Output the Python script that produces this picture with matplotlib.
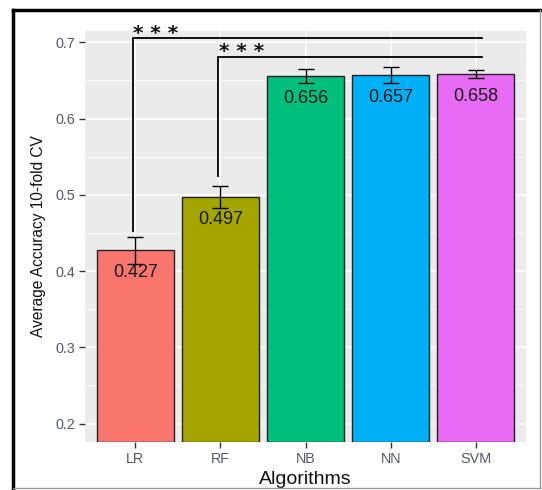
import matplotlib
matplotlib.use("Agg")
import matplotlib.pyplot as plt
from matplotlib.lines import Line2D

# ---------- DATA ----------
algorithms = ["LR", "RF", "NB", "NN", "SVM"]
accuracy = [0.427, 0.497, 0.656, 0.657, 0.658]
acc_err = [0.018, 0.014, 0.009, 0.010, 0.005]
bar_colors = ["#F8766D", "#A3A500", "#00BF7D", "#00B0F6", "#E76BF3"]

# significance brackets: (start group, end group, label)
sig_start = ["LR", "RF"]
sig_end = ["SVM", "SVM"]
sig_labels = ["* * *", "* * *"]
sig_heights = [0.705, 0.681]

plt.rcParams["font.family"] = ["Liberation Sans", "DejaVu Sans"]

fig = plt.figure(figsize=(5.42, 4.9), dpi=100)
ax = fig.add_axes([85 / 542, 1 - 442 / 490, 441 / 542, 411 / 490])

x = list(range(1, len(algorithms) + 1))
ymin = 0.1758

ax.set_facecolor("#EBEBEB")
for y in [0.25, 0.35, 0.45, 0.55, 0.65]:
    ax.axhline(y, color="white", lw=0.6, zorder=0)
for y in [0.2, 0.3, 0.4, 0.5, 0.6, 0.7]:
    ax.axhline(y, color="white", lw=1.1, zorder=0)
for xi in x:
    ax.axvline(xi, color="white", lw=1.1, zorder=0)

heights = [a - ymin for a in accuracy]
ax.bar(x, heights, bottom=ymin, width=0.9, color=bar_colors,
       edgecolor="#222222", linewidth=1.0, zorder=2)
ax.errorbar(x, accuracy, yerr=acc_err, fmt="none", ecolor="black",
            elinewidth=1.0, capsize=6, capthick=1.0, zorder=3)

for xi, a in zip(x, accuracy):
    ax.annotate(f"{a:.3f}", (xi, a), xytext=(0, -16), textcoords="offset points",
                ha="center", va="center", fontsize=13, color="#1a1a1a", zorder=4)

# significance brackets
for s, e, lab, h in zip(sig_start, sig_end, sig_labels, sig_heights):
    i0 = algorithms.index(s)
    i1 = algorithms.index(e)
    x0 = x[i0] - 0.03
    x1 = x[i1] + 0.07
    low = accuracy[i0] + acc_err[i0] + 0.008 + 0.005 * i0
    ax.plot([x0, x0, x1], [low, h, h], color="black", lw=1.3,
            zorder=4, clip_on=False, solid_joinstyle="miter")
    ax.annotate(lab, (x0, h), xytext=(0.5, -0.5), textcoords="offset points",
                ha="left", va="baseline", fontsize=14.5, fontweight="bold",
                family="DejaVu Sans", color="#111111", clip_on=False)

ax.set_xlim(0.41, 5.59)
ax.set_ylim(ymin, 0.7148)
ax.set_xticks(x)
ax.set_xticklabels(algorithms)
ax.set_yticks([0.2, 0.3, 0.4, 0.5, 0.6, 0.7])
ax.set_yticklabels(["0.2", "0.3", "0.4", "0.5", "0.6", "0.7"])
ax.tick_params(axis="both", length=4, width=1, color="#333333",
               labelcolor="#555a66", labelsize=10.4, pad=3)
for sp in ax.spines.values():
    sp.set_visible(False)

ax.set_xlabel("Algorithms", fontsize=14, color="#111111", labelpad=4)
ax.set_ylabel("Average Accuracy 10-fold CV", fontsize=11.2, color="#111111", labelpad=7)

# outer frame
fig.add_artist(Line2D([13 / 542, 13 / 542], [1 - 10 / 490, 1 - 488 / 490],
                      color="black", lw=2.5, transform=fig.transFigure))
fig.add_artist(Line2D([13 / 542, 540 / 542], [1 - 10 / 490, 1 - 10 / 490],
                      color="black", lw=2.5, transform=fig.transFigure))
fig.add_artist(Line2D([540 / 542, 540 / 542], [1 - 10 / 490, 1 - 488 / 490],
                      color="#999999", lw=1, transform=fig.transFigure))
fig.add_artist(Line2D([13 / 542, 540 / 542], [1 - 488 / 490, 1 - 488 / 490],
                      color="#999999", lw=1, transform=fig.transFigure))

fig.savefig("out.png", dpi=100)
